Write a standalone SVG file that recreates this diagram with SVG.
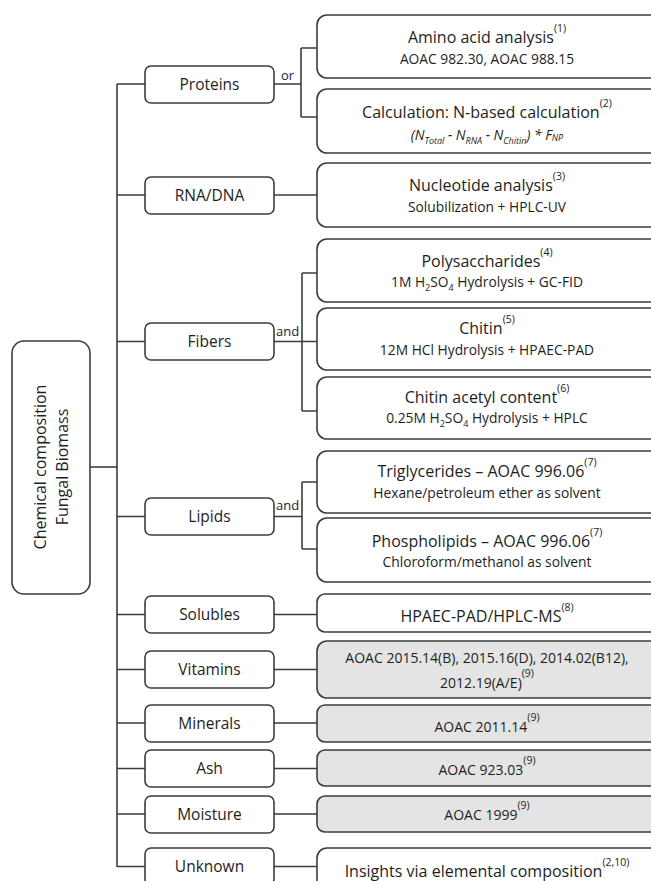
<svg xmlns="http://www.w3.org/2000/svg" width="651" height="881" viewBox="0 0 651 881">
<style>
.box{fill:#fff;stroke:#3c3c3c;stroke-width:1.6}
.gbox{fill:#e4e4e4;stroke:#3c3c3c;stroke-width:1.6}
.ln{fill:none;stroke:#3c3c3c;stroke-width:1.6}
text{font-family:"Open Sans","Liberation Sans",sans-serif;fill:#1e1e1e}
.t{font-size:16px;text-anchor:middle}
.s{font-size:13.8px;text-anchor:middle}
.g{font-size:14px;text-anchor:middle}
.sup{font-size:10.5px}
.sub{font-size:9px}
.lab{font-size:15.5px;text-anchor:middle}
.conj{font-size:13px}
.main{font-size:16px;text-anchor:middle}
</style>
<rect width="651" height="881" fill="#fff"/>
<g id="connectors">
<path class="ln" d="M117 84V867"/>
<path class="ln" d="M90 467H117"/>
<path class="ln" d="M117 84H145M117 195H145M117 341.5H145M117 516.5H145M117 614.5H145M117 669.5H145M117 723H145M117 768.5H145M117 814H145M117 866.5H145"/>
<path class="ln" d="M274 84H301M301 48V117M301 48H317M301 117H317"/>
<path class="ln" d="M274 195H317"/>
<path class="ln" d="M274 341.5H317M302 273V411M302 273H317M302 411H317"/>
<path class="ln" d="M274 516.5H302M302 482V549M302 482H317M302 549H317"/>
<path class="ln" d="M274 614.5H317M274 669.5H317M274 723H317M274 768.5H317M274 814H317M274 866.5H317"/>
<text class="conj" x="281" y="80">or</text>
<text class="conj" x="276" y="336">and</text>
<text class="conj" x="276" y="510">and</text>
</g>
<g id="main">
<rect class="box" x="12" y="341" width="78" height="253" rx="12"/>
<text class="main" transform="translate(46,467) rotate(-90)">Chemical composition</text>
<text class="main" transform="translate(68,467) rotate(-90)">Fungal Biomass</text>
</g>
<g id="proteins"><rect class="box" x="145" y="66" width="129" height="37" rx="6"/><text class="lab" x="209.5" y="90">Proteins</text></g>
<g id="rnadna"><rect class="box" x="145" y="177" width="129" height="37" rx="6"/><text class="lab" x="209.5" y="201">RNA/DNA</text></g>
<g id="fibers"><rect class="box" x="145" y="323" width="129" height="37" rx="6"/><text class="lab" x="209.5" y="347">Fibers</text></g>
<g id="lipids"><rect class="box" x="145" y="498" width="129" height="37" rx="6"/><text class="lab" x="209.5" y="522">Lipids</text></g>
<g id="solubles"><rect class="box" x="145" y="596" width="129" height="37" rx="6"/><text class="lab" x="209.5" y="620">Solubles</text></g>
<g id="vitamins"><rect class="box" x="145" y="651" width="129" height="37" rx="6"/><text class="lab" x="209.5" y="675">Vitamins</text></g>
<g id="minerals"><rect class="box" x="145" y="705" width="129" height="37" rx="6"/><text class="lab" x="209.5" y="729">Minerals</text></g>
<g id="ash"><rect class="box" x="145" y="750" width="129" height="37" rx="6"/><text class="lab" x="209.5" y="774">Ash</text></g>
<g id="moisture"><rect class="box" x="145" y="796" width="129" height="37" rx="6"/><text class="lab" x="209.5" y="820">Moisture</text></g>
<g id="unknown"><rect class="box" x="145" y="848" width="129" height="37" rx="6"/><text class="lab" x="209.5" y="872">Unknown</text></g>

<g id="amino"><rect class="box" x="317" y="15" width="360" height="63" rx="10"/>
<text class="t" x="487" y="43">Amino acid analysis<tspan class="sup" dy="-11">(1)</tspan></text>
<text class="s" x="487" y="64">AOAC 982.30, AOAC 988.15</text></g>
<g id="calc"><rect class="box" x="317" y="89" width="360" height="64" rx="10"/>
<text class="t" x="487" y="118">Calculation: N-based calculation<tspan class="sup" dy="-11">(2)</tspan></text>
<text class="s" x="487" y="140" font-style="italic">(N<tspan class="sub" dy="4">Total</tspan><tspan dy="-4"> - N</tspan><tspan class="sub" dy="4">RNA</tspan><tspan dy="-4"> - N</tspan><tspan class="sub" dy="4">Chitin</tspan><tspan dy="-4">) * F</tspan><tspan class="sub" dy="1">NP</tspan></text></g>
<g id="nucleotide"><rect class="box" x="317" y="163" width="360" height="64" rx="10"/>
<text class="t" x="487" y="191">Nucleotide analysis<tspan class="sup" dy="-11">(3)</tspan></text>
<text class="s" x="487" y="212">Solubilization + HPLC-UV</text></g>
<g id="polysaccharides"><rect class="box" x="317" y="239" width="360" height="63" rx="10"/>
<text class="t" x="487" y="267">Polysaccharides<tspan class="sup" dy="-11">(4)</tspan></text>
<text class="s" x="487" y="287">1M H<tspan class="sub" dy="4">2</tspan><tspan dy="-4">SO</tspan><tspan class="sub" dy="4">4</tspan><tspan dy="-4"> Hydrolysis + GC-FID</tspan></text></g>
<g id="chitin"><rect class="box" x="317" y="308" width="360" height="62" rx="10"/>
<text class="t" x="487" y="334">Chitin<tspan class="sup" dy="-11">(5)</tspan></text>
<text class="s" x="487" y="355">12M HCl Hydrolysis + HPAEC-PAD</text></g>
<g id="acetyl"><rect class="box" x="317" y="377" width="360" height="62" rx="10"/>
<text class="t" x="487" y="403">Chitin acetyl content<tspan class="sup" dy="-11">(6)</tspan></text>
<text class="s" x="487" y="423">0.25M H<tspan class="sub" dy="4">2</tspan><tspan dy="-4">SO</tspan><tspan class="sub" dy="4">4</tspan><tspan dy="-4"> Hydrolysis + HPLC</tspan></text></g>
<g id="triglycerides"><rect class="box" x="317" y="451" width="360" height="62" rx="10"/>
<text class="t" x="487" y="477">Triglycerides – AOAC 996.06<tspan class="sup" dy="-11">(7)</tspan></text>
<text class="s" x="487" y="498">Hexane/petroleum ether as solvent</text></g>
<g id="phospholipids"><rect class="box" x="317" y="518" width="360" height="64" rx="10"/>
<text class="t" x="487" y="547">Phospholipids – AOAC 996.06<tspan class="sup" dy="-11">(7)</tspan></text>
<text class="s" x="487" y="567">Chloroform/methanol as solvent</text></g>
<g id="solubles-m"><rect class="box" x="317" y="594" width="360" height="38" rx="8"/>
<text class="t" x="487" y="622">HPAEC-PAD/HPLC-MS<tspan class="sup" dy="-11">(8)</tspan></text></g>
<g id="vitamins-m"><rect class="gbox" x="317" y="641" width="360" height="57" rx="10"/>
<text class="g" x="487" y="663">AOAC 2015.14(B), 2015.16(D), 2014.02(B12),</text>
<text class="g" x="487" y="688">2012.19(A/E)<tspan class="sup" dy="-11">(9)</tspan></text></g>
<g id="minerals-m"><rect class="gbox" x="317" y="705" width="360" height="37" rx="8"/>
<text class="g" x="487" y="732">AOAC 2011.14<tspan class="sup" dy="-11">(9)</tspan></text></g>
<g id="ash-m"><rect class="gbox" x="317" y="750" width="360" height="36" rx="8"/>
<text class="g" x="487" y="775">AOAC 923.03<tspan class="sup" dy="-11">(9)</tspan></text></g>
<g id="moisture-m"><rect class="gbox" x="317" y="796" width="360" height="36" rx="8"/>
<text class="g" x="487" y="820">AOAC 1999<tspan class="sup" dy="-11">(9)</tspan></text></g>
<g id="unknown-m"><rect class="box" x="317" y="848" width="360" height="60" rx="10"/>
<text class="t" x="487" y="877">Insights via elemental composition<tspan class="sup" dy="-11">(2,10)</tspan></text></g>
</svg>
